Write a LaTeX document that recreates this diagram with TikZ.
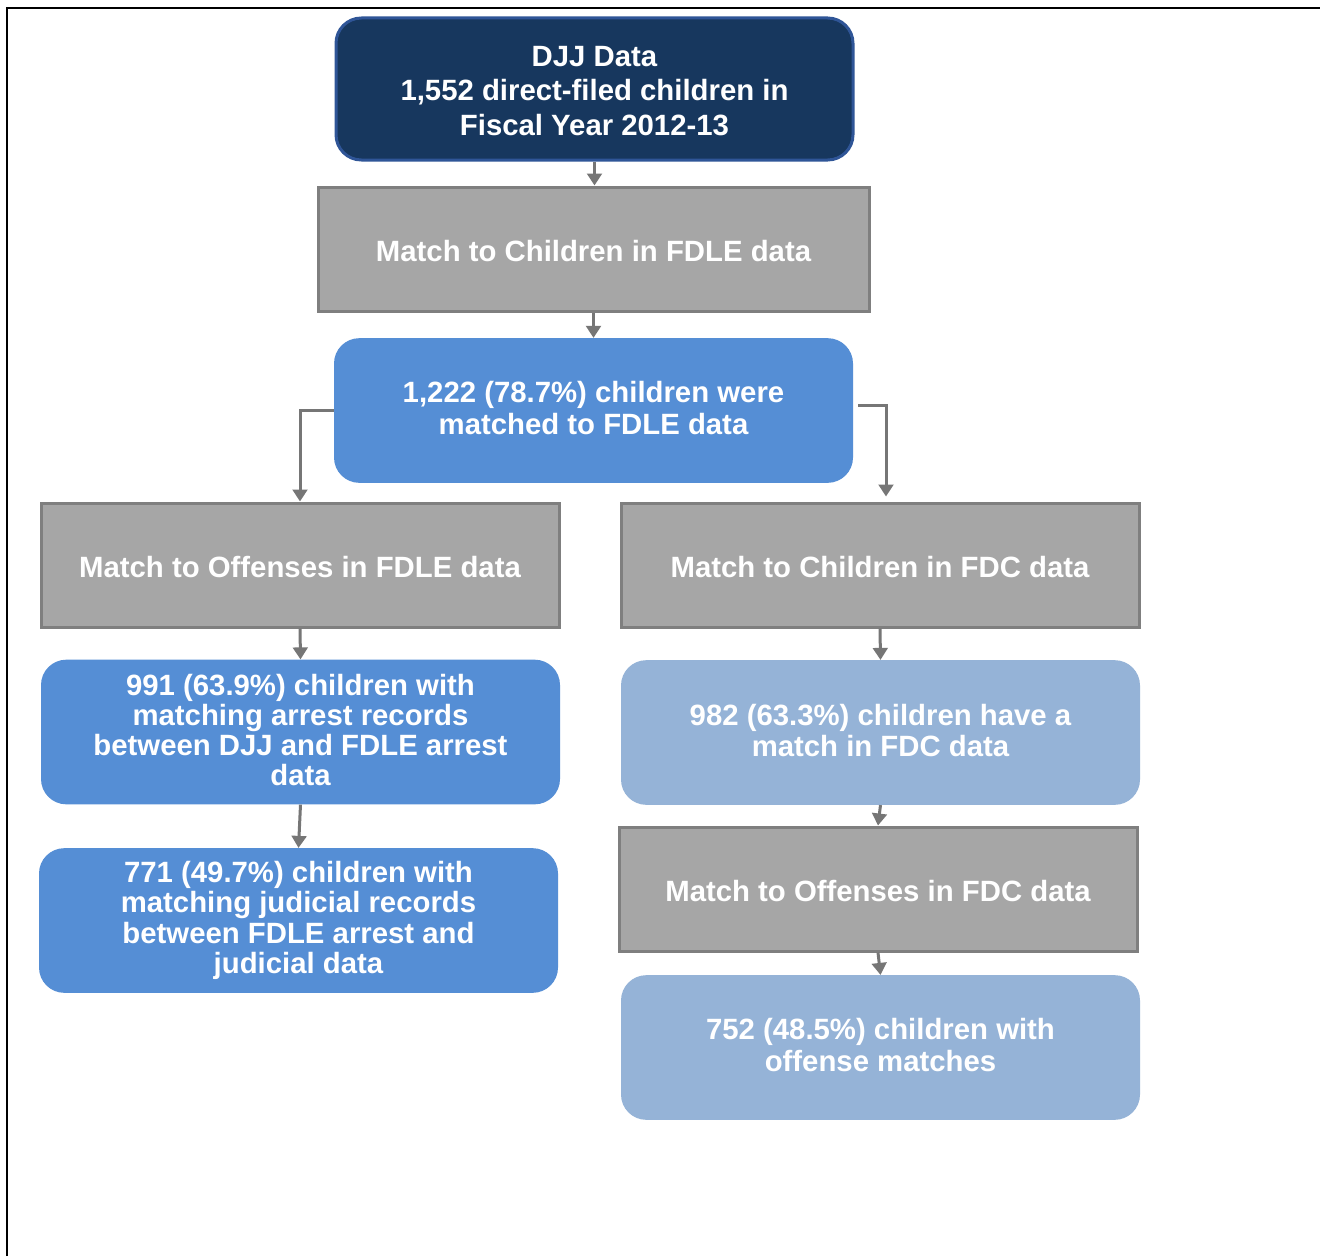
\documentclass[tikz,border=0pt]{standalone}
\usepackage{fontspec}
\setmainfont{Liberation Sans}
\usetikzlibrary{arrows.meta,calc}
\definecolor{navy}{HTML}{17375E}
\definecolor{navyedge}{HTML}{2F5597}
\definecolor{boxgray}{HTML}{A6A6A6}
\definecolor{edgegray}{HTML}{7F7F7F}
\definecolor{midblue}{HTML}{558ED5}
\definecolor{lightblue}{HTML}{95B3D7}
\definecolor{arrowgray}{HTML}{767676}
\begin{document}
\begin{tikzpicture}[x=0.75pt,y=-0.75pt,
 txt/.style={align=center,text=white,inner sep=0pt,font=\bfseries\fontsize{22}{24}\selectfont},
 sp/.style={font=\bfseries\fontsize{22}{#1}\selectfont},
 base/.style={inner sep=0pt},
 navybox/.style={base,fill=navy,draw=navyedge,line width=2.25pt,rounded corners=19pt,minimum width=387.75pt,minimum height=106.5pt},
 graybox/.style={base,fill=boxgray,draw=edgegray,line width=2.25pt,minimum width=388.5pt,minimum height=93pt},
 bluebox/.style={base,fill=midblue,rounded corners=19pt,minimum width=389.25pt,minimum height=108.5pt},
 lightbox/.style={base,fill=lightblue,rounded corners=19pt,minimum width=389.25pt,minimum height=108.5pt},
 conn/.style={draw=arrowgray,line width=2.25pt,-{Triangle[length=9pt,width=11pt]}},
]
\useasboundingbox (0,0) rectangle (1320,1256);
\fill[white] (0,0) rectangle (1320,1256);
\draw[line width=1.5pt] (7,1256) -- (7,8) -- (1320,8);

\node[navybox,label={[txt,sp=25.9,yshift=-1.5pt]center:{DJJ Data\\1,552 direct-filed children in\\Fiscal Year 2012-13}}] (djj) at (594.5,89) {};
\node[graybox,minimum width=413.25pt,label={[txt,yshift=-1.5pt]center:{Match to Children in FDLE data}}] (mfdle) at (593.5,249) {};
\node[bluebox,label={[txt,sp=24,yshift=1.5pt]center:{1,222 (78.7\%) children were\\matched to FDLE data}}] (m1222) at (593.5,410.5) {};
\node[graybox,label={[txt,yshift=-1.5pt]center:{Match to Offenses in FDLE data}}] (offfdle) at (300,565) {};
\node[graybox,label={[txt,yshift=-1.5pt]center:{Match to Children in FDC data}}] (chfdc) at (880,565) {};
\node[bluebox,label={[txt,sp=22.5,yshift=1.5pt]center:{991 (63.9\%) children with\\matching arrest records\\between DJJ and FDLE arrest\\data}}] (m991) at (300.5,732) {};
\node[bluebox,label={[txt,sp=22.8]center:{771 (49.7\%) children with\\matching judicial records\\between FDLE arrest and\\judicial data}}] (m771) at (298.5,920.5) {};
\node[lightbox,label={[txt,sp=23.3,yshift=1.8pt]center:{982 (63.3\%) children have a\\match in FDC data}}] (m982) at (880.5,732.5) {};
\node[graybox,label={[txt,yshift=-1.5pt]center:{Match to Offenses in FDC data}}] (offfdc) at (878,889) {};
\node[lightbox,label={[txt,sp=24,yshift=1.5pt]center:{752 (48.5\%) children with\\offense matches}}] (m752) at (880.5,1047.5) {};

\coordinate (rstart) at ($(m1222.east)+(5,-5)$);
\coordinate (rend) at ($(chfdc.north)+(6,-5)$);

\draw[conn] (djj.south) -- (djj.south |- mfdle.north);
\draw[conn] (mfdle.south) -- (mfdle.south |- m1222.north);
\draw[conn] (m1222.west) -| (offfdle.north);
\draw[conn] (rstart) -| (rend);
\draw[conn] (offfdle.south) -- (m991.north);
\draw[conn] (m991.south) -- (m771.north);
\draw[conn] (chfdc.south) -- (m982.north);
\draw[conn] (m982.south) -- (offfdc.north);
\draw[conn] (offfdc.south) -- (m752.north);
\end{tikzpicture}
\end{document}
